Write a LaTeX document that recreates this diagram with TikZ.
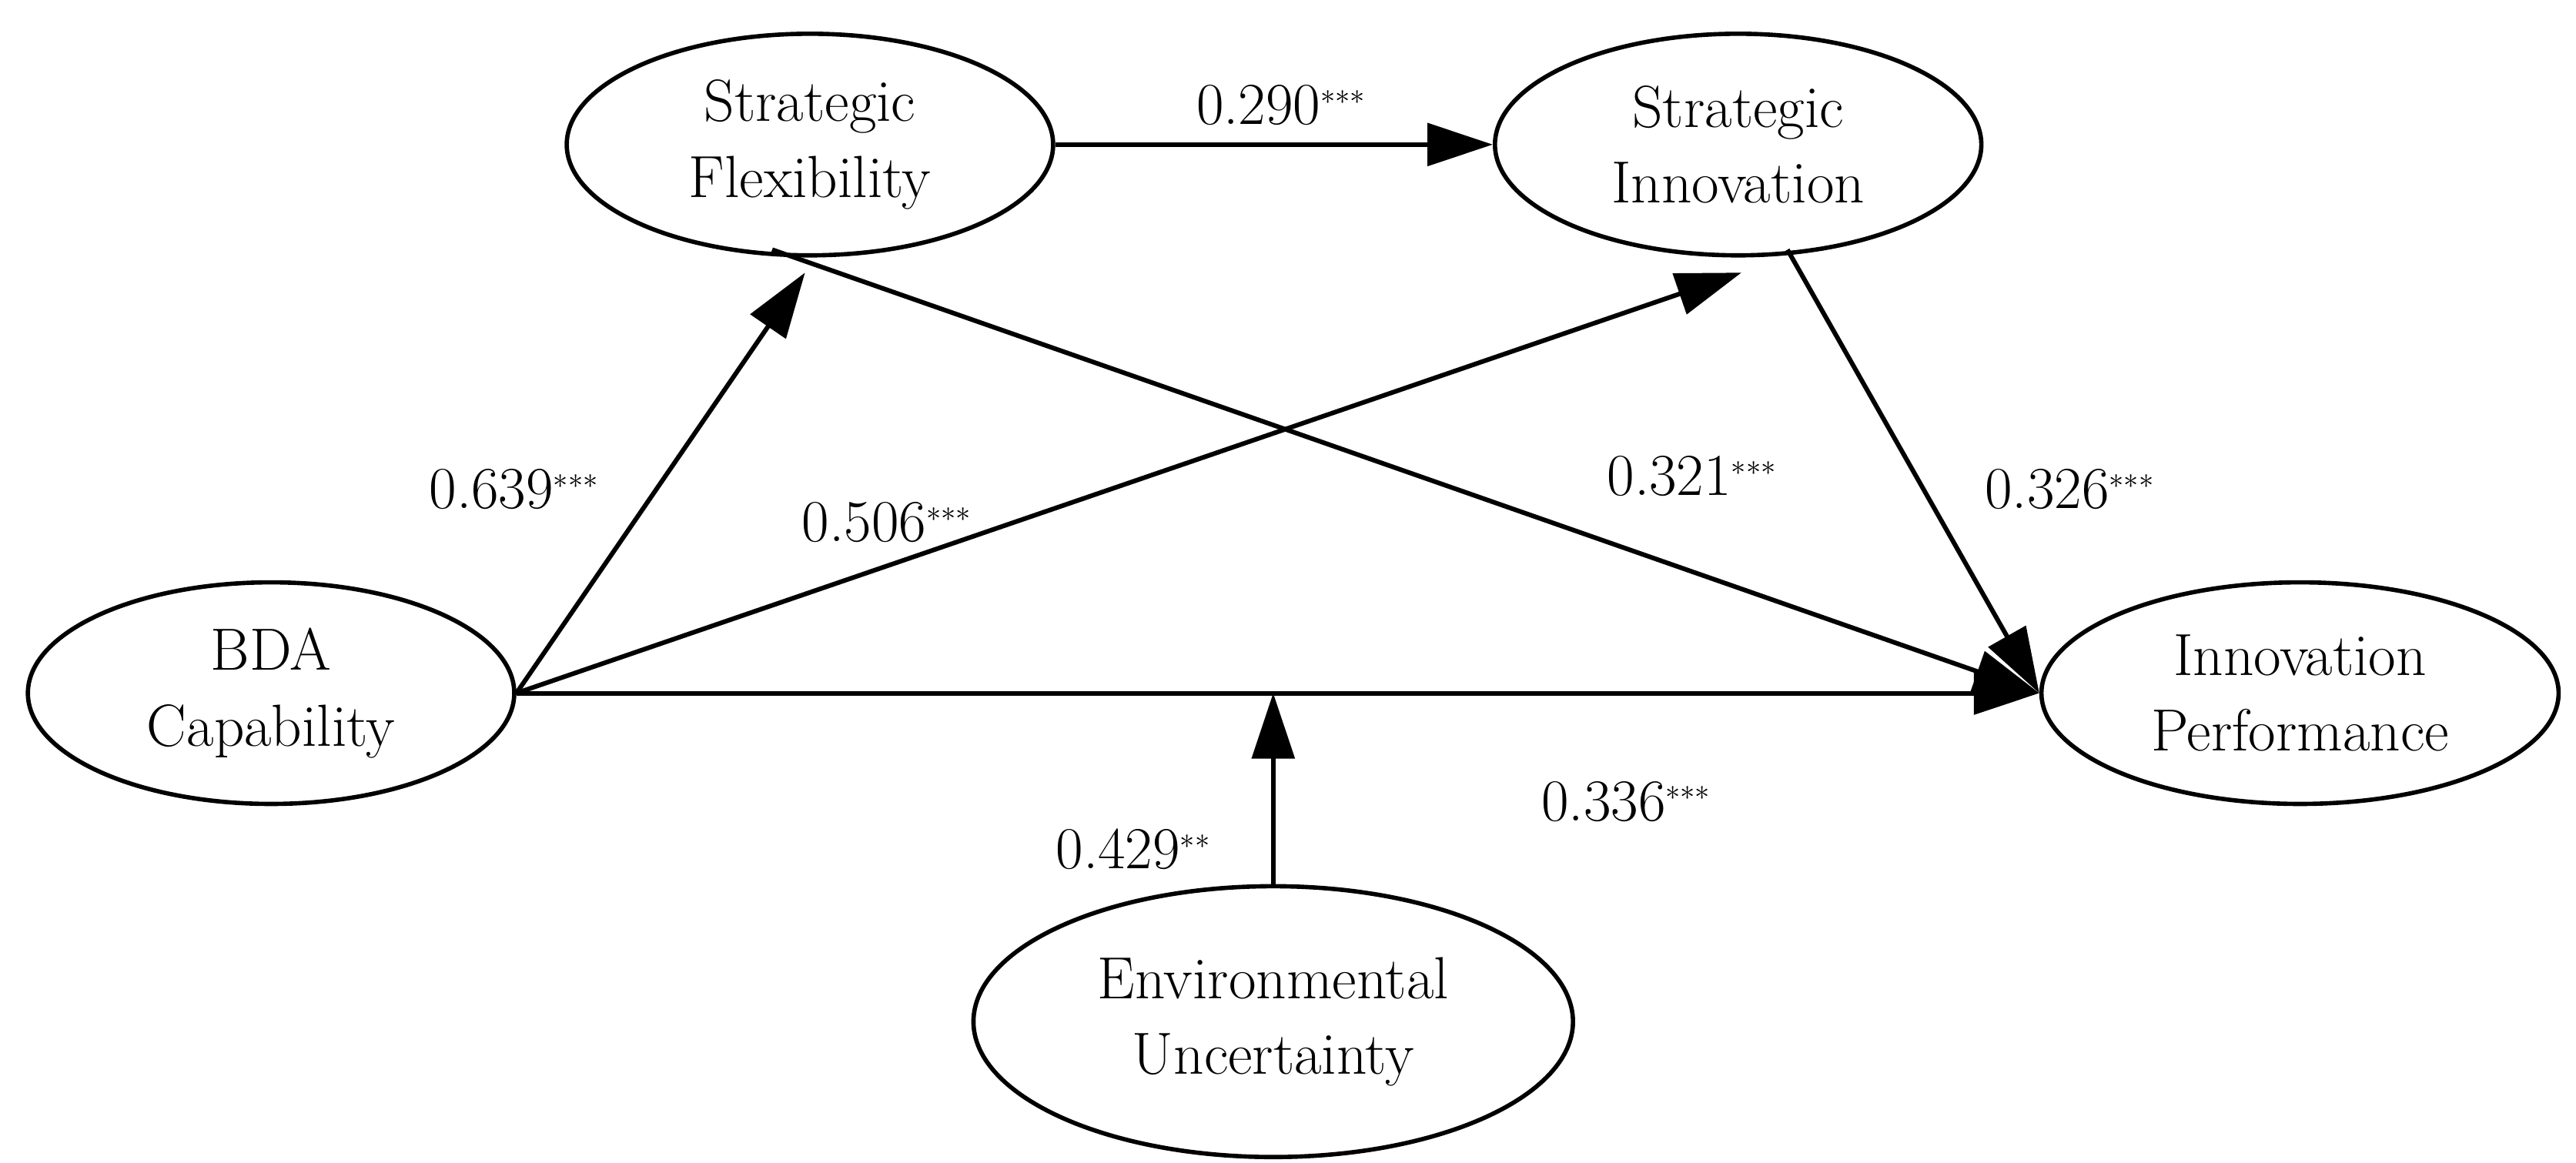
\documentclass[tikz,border=0pt]{standalone}
\usetikzlibrary{shapes.geometric,arrows.meta}
\begin{document}
\begin{tikzpicture}[x=0.02134cm,y=-0.02134cm,
  lat/.style={ellipse,draw,line width=1.6pt,minimum width=6.32cm,minimum height=2.88cm,align=center,font=\fontsize{22}{28}\selectfont,inner sep=0pt},
  arr/.style={line width=1.7pt,-{Triangle[length=0.85cm,width=0.55cm]}},
  lab/.style={font=\fontsize{22}{26}\selectfont}]
\useasboundingbox (0,0) rectangle (1568,708);
\node[lat] (sf) at (493,88) {Strategic\\Flexibility};
\node[lat] (si) at (1058,88) {Strategic\\Innovation};
\node[lat] (bda) at (165,422) {BDA\\Capability};
\node[lat,minimum width=6.72cm] (ip) at (1400,422) {Innovation\\Performance};
\node[lat,minimum width=7.79cm,minimum height=3.52cm] (eu) at (775,622) {Environmental\\Uncertainty};
\coordinate (m) at (775,422);
\coordinate (sfin) at (490,166);
\coordinate (sfout) at (470,152);
\coordinate (siin) at (1060,166);
\coordinate (siout) at (1088,152);
\draw[arr] (sf) -- (si);
\draw[arr] (bda.east) -- (sfin);
\draw[arr] (bda.east) -- (siin);
\draw[arr] (sfout) -- (ip.west);
\draw[arr] (siout) -- (ip.west);
\draw[arr] (bda.east) -- (ip.west);
\draw[arr] (eu) -- (m);
\newcommand{\sth}[1]{$^{\scriptscriptstyle #1}$}
\node[lab] (l1) at (780,64) {0.290\sth{***}};
\node[lab] (l2) at (313,298) {0.639\sth{***}};
\node[lab] (l3) at (540,318) {0.506\sth{***}};
\node[lab] (l4) at (1030,290) {0.321\sth{***}};
\node[lab] (l5) at (1260,298) {0.326\sth{***}};
\node[lab] (l6) at (990,488) {0.336\sth{***}};
\node[lab] (l7) at (690,517) {0.429\sth{**}};
\end{tikzpicture}
\end{document}
